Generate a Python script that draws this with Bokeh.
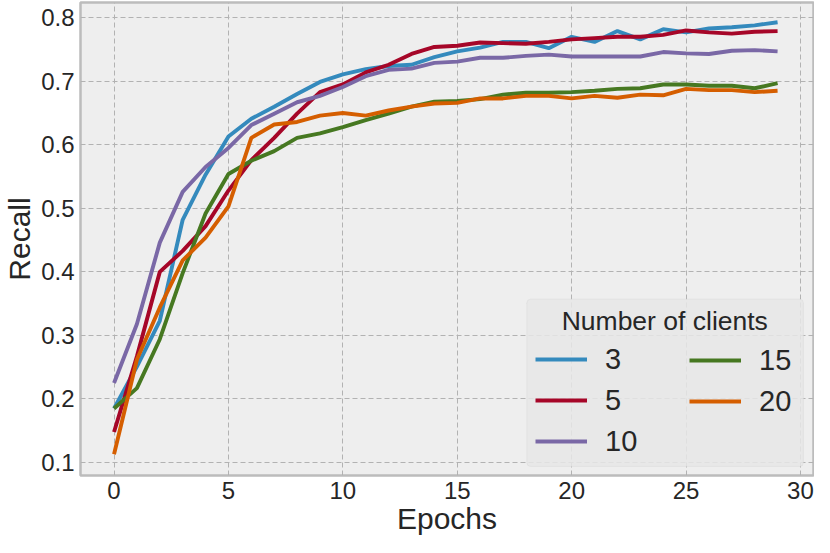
from bokeh.plotting import figure
from bokeh.models import Legend, LegendItem, Range1d, FixedTicker, Label, BoxAnnotation
from bokeh.embed import file_html
from bokeh.resources import INLINE

epochs = list(range(30))
clients = ["3", "5", "10", "15", "20"]
recall_3 = [0.185, 0.251, 0.323, 0.482, 0.553, 0.613, 0.641, 0.660, 0.680, 0.699,
            0.711, 0.719, 0.724, 0.726, 0.738, 0.747, 0.753, 0.762, 0.762, 0.752,
            0.770, 0.762, 0.779, 0.766, 0.782, 0.777, 0.783, 0.785, 0.788, 0.793]
recall_5 = [0.148, 0.267, 0.400, 0.433, 0.472, 0.528, 0.576, 0.611, 0.649, 0.683,
            0.695, 0.714, 0.726, 0.743, 0.754, 0.756, 0.761, 0.760, 0.759, 0.762,
            0.766, 0.768, 0.770, 0.770, 0.773, 0.780, 0.777, 0.775, 0.778, 0.779]
recall_10 = [0.225, 0.318, 0.446, 0.526, 0.565, 0.595, 0.631, 0.649, 0.667, 0.677,
             0.691, 0.708, 0.718, 0.720, 0.729, 0.731, 0.737, 0.737, 0.740, 0.742,
             0.739, 0.739, 0.739, 0.739, 0.746, 0.744, 0.743, 0.748, 0.749, 0.747]
recall_15 = [0.185, 0.217, 0.294, 0.398, 0.492, 0.554, 0.575, 0.590, 0.611, 0.618,
             0.628, 0.639, 0.649, 0.660, 0.668, 0.669, 0.672, 0.679, 0.682, 0.682,
             0.683, 0.685, 0.688, 0.689, 0.695, 0.695, 0.693, 0.693, 0.689, 0.697]
recall_20 = [0.113, 0.262, 0.344, 0.418, 0.454, 0.503, 0.611, 0.632, 0.636, 0.646,
             0.650, 0.646, 0.654, 0.660, 0.665, 0.666, 0.673, 0.673, 0.677, 0.677,
             0.673, 0.677, 0.674, 0.679, 0.678, 0.688, 0.686, 0.686, 0.683, 0.685]
x_ticks = [0, 5, 10, 15, 20, 25, 30]
y_ticks = [0.1, 0.2, 0.3, 0.4, 0.5, 0.6, 0.7, 0.8]
legend_title = "Number of clients"

series = [recall_3, recall_5, recall_10, recall_15, recall_20]
colors = ["#348ABD", "#A60628", "#7A68A6", "#467821", "#D55E00"]

FONT = "Liberation Sans"
TXT = "#262626"

p = figure(width=814, height=537, output_backend="svg", toolbar_location=None,
           x_range=Range1d(-1.466, 30.57), y_range=Range1d(0.0795, 0.824),
           min_border_left=79, min_border_right=1, min_border_top=2, min_border_bottom=60)

p.background_fill_color = "#eeeeee"
p.border_fill_color = "white"
p.outline_line_color = "#bcbcbc"
p.outline_line_width = 2.5

for ax in (p.xaxis[0], p.yaxis[0]):
    ax.axis_line_color = None
    ax.major_tick_line_color = None
    ax.minor_tick_line_color = None
    ax.major_tick_out = 0
    ax.major_tick_in = 0
    ax.minor_tick_out = 0
    ax.minor_tick_in = 0
    ax.major_label_text_font = FONT
    ax.major_label_text_font_size = "24px"
    ax.major_label_text_color = TXT
    ax.axis_label_text_font = FONT
    ax.axis_label_text_font_size = "30px"
    ax.axis_label_text_font_style = "normal"
    ax.axis_label_text_color = TXT

p.xaxis.ticker = FixedTicker(ticks=x_ticks)
p.yaxis.ticker = FixedTicker(ticks=y_ticks)
p.xaxis.axis_label = "Epochs"
p.yaxis.axis_label = "Recall"
p.xaxis.major_label_standoff = 6
p.yaxis.major_label_standoff = 6
p.xaxis.axis_label_standoff = 0
p.yaxis.axis_label_standoff = 2

for g in (p.xgrid[0], p.ygrid[0]):
    g.grid_line_color = "#b2b2b2"
    g.grid_line_dash = "5 3"
    g.grid_line_width = 1

# legend background box (drawn beneath the legend entries and title)
p.add_layout(BoxAnnotation(left=18.04, right=30.13, bottom=0.0937, top=0.3571,
                           fill_color="#e6e6e6", fill_alpha=0.85,
                           line_color="#cfcfcf", line_width=1, border_radius=4))

items = []
for name, ys, c in zip(clients, series, colors):
    r = p.line(epochs, ys, line_color=c, line_width=3.9)
    items.append(LegendItem(label=name, renderers=[r]))

common = dict(margin=0, label_text_font=FONT, label_text_font_size="29px",
              label_text_color=TXT, glyph_width=52, glyph_height=34,
              label_standoff=18, label_height=34, spacing=7,
              background_fill_alpha=0, border_line_color="#cfcfcf", border_line_alpha=0)

legend_a = Legend(items=items[:3], location=(447, 9), padding=8,
                  title="\u00a0", title_text_font=FONT, title_text_font_size="26px",
                  title_standoff=6, label_width=191, **common)
legend_b = Legend(items=items[3:], location=(609, 57), padding=0, **common)
p.add_layout(legend_a, "center")
p.add_layout(legend_b, "center")

p.add_layout(Label(x=24.07, y=0.3224, text=legend_title, text_align="center",
                   text_baseline="alphabetic", text_font=FONT,
                   text_font_size="26.5px", text_color=TXT))

open("out.html", "w").write(file_html(p, INLINE))
